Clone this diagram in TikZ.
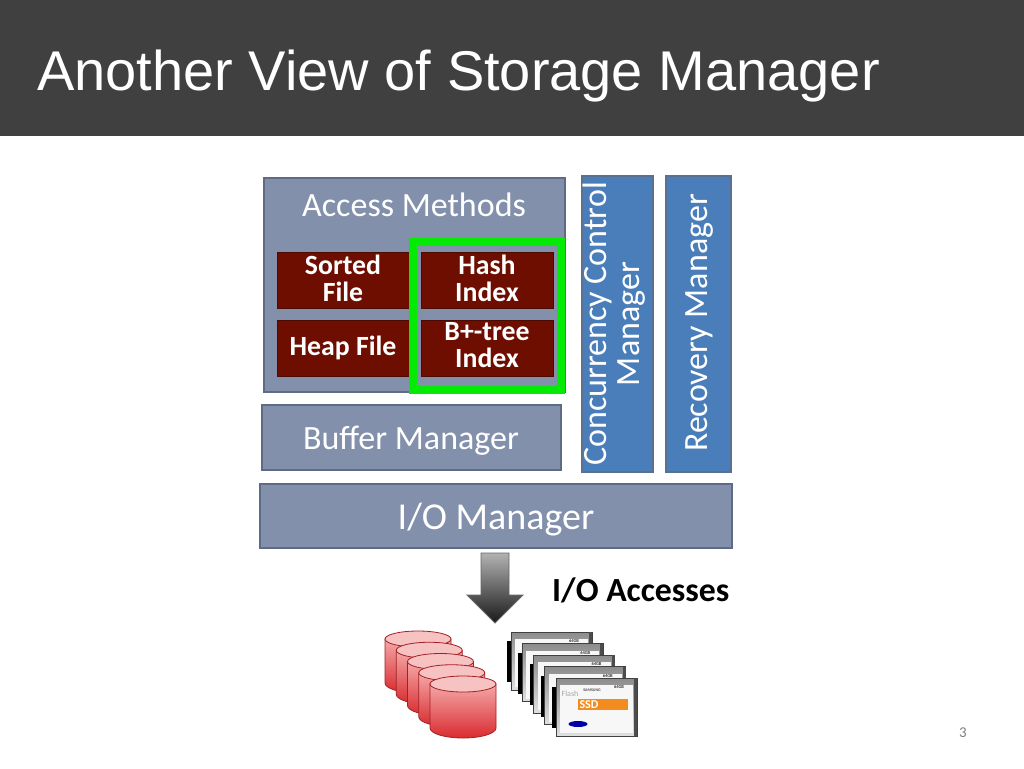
\documentclass[tikz,border=0pt]{standalone}
\usepackage{fontspec}
\setmainfont{Carlito}
\newfontfamily\titlefont{Liberation Sans}
\usetikzlibrary{arrows,shapes.geometric}
\definecolor{headgray}{HTML}{404040}
\definecolor{slate}{HTML}{8390AC}
\definecolor{slateline}{HTML}{5F6B85}
\definecolor{mgrblue}{HTML}{4A7EBB}
\definecolor{mgrline}{HTML}{5B6F8F}
\definecolor{maroon}{HTML}{6E0E00}
\definecolor{limeframe}{HTML}{05EA05}
\definecolor{diskred}{HTML}{D92B30}
\definecolor{diskpink}{HTML}{F4A8A8}
\definecolor{ssdorange}{HTML}{F28C1E}
\tikzset{
  mgr_box/.style = {rectangle, draw=slateline, fill=slate, line width=1.5pt, inner sep=0pt},
  mgr_label/.style = {text=white, inner sep=0pt, font=\fontsize{34}{36}\selectfont},
  mgr_side/.style = {rectangle, draw=mgrline, fill=mgrblue, line width=1.5pt, inner sep=0pt, minimum height=296pt},
  mgr_text/.style = {text=white, inner sep=0pt, align=center, rotate=90, font=\fontsize{34}{33}\selectfont},
  file_box/.style = {rectangle, draw=maroon!70!black, fill=maroon, line width=0.8pt, minimum width=132pt, minimum height=56pt, inner sep=0pt},
  file_text/.style = {inner sep=0pt, align=center, text=white, font=\fontsize{27.8}{27}\selectfont\bfseries},
  pics/disk/.style = {code={
    \path[top color=diskpink, bottom color=diskred, draw=diskred!75!black, line width=0.8pt] (0,8) -- (0,52) arc[start angle=180, end angle=360, x radius=33pt, y radius=10pt] -- (66,8) -- cycle;
    \path[fill=diskpink!70!white, draw=diskred!75!black, line width=0.8pt] (33,8) ellipse[x radius=33pt, y radius=8pt];
  }},
  pics/ssd/.style = {code={
    \fill[black] (0,9) rectangle (3.5,50);
    \path[top color=black!45, bottom color=black!12, draw=black!75, line width=0.8pt] (4,0) rectangle (85,58);
    \fill[black!3] (8,7) rectangle (81,55);
    \fill[black!70] (82,0) rectangle (85,58);
    \node[font=\fontsize{4.5}{4.5}\selectfont\bfseries, text=black!80, inner sep=0pt] at (67,9) {64GB};
  }}
}
\begin{document}
\begin{tikzpicture}[x=1pt,y=-1pt]
  \useasboundingbox (0,0) rectangle (1024,768);
  % Header band
  \fill[headgray] (0,0) rectangle (1024,136);
  \node (title) [anchor=west, text=white, inner sep=0pt, font=\titlefont\fontsize{56}{60}\selectfont] at (37,76) {Another View of Storage Manager};
  % Access methods
  \node (access) [mgr_box, minimum width=301pt, minimum height=214pt] at (414.5,285) {};
  \node (accesstext) [mgr_label] at (414,205) {Access Methods};
  \node (sorted) [file_box] at (343,280) {};
  \node (heap) [file_box] at (343,348.5) {};
  \node (hash) [file_box] at (487,280) {};
  \node (btree) [file_box] at (487,348.5) {};
  \node (sortedtext) [file_text] at (343,278.5) {Sorted\\File};
  \node (heaptext) [file_text] at (343,348) {Heap File};
  \node (hashtext) [file_text] at (487,278.5) {Hash\\Index};
  \node (btreetext) [file_text] at (487,345.5) {B+-tree\\Index};
  \node (frame) [rectangle, draw=limeframe, line width=8pt, minimum width=148pt, minimum height=148pt, inner sep=0pt] at (487,316) {};
  % Lower managers
  \node (buffer) [mgr_box, minimum width=299pt, minimum height=65pt] at (411.5,437.5) {};
  \node (buffertext) [mgr_label] at (411,441) {Buffer Manager};
  \node (iomgr) [mgr_box, minimum width=472pt, minimum height=64pt] at (496,516) {};
  \node (iotext) [mgr_label, font=\fontsize{38}{40}\selectfont] at (496,520) {I/O Manager};
  % Side managers
  \node (concur) [mgr_side, minimum width=71pt] at (617.5,324) {};
  \node (concurtext) [mgr_text] at (614,324) {Concurrency Control\\Manager};
  \node (recov) [mgr_side, minimum width=65pt] at (698.5,324) {};
  \node (recovtext) [mgr_text] at (700,323) {Recovery Manager};
  % I/O arrow
  \path[top color=black!30, bottom color=black!90, draw=black!60, line width=0.8pt] (481,553) -- (509,553) -- (509,595) -- (523,595) -- (495,623) -- (467,595) -- (481,595) -- cycle;
  \node (accesses) [anchor=west, inner sep=0pt, font=\fontsize{33.8}{36}\selectfont\bfseries] at (552,590) {I/O Accesses};
  % Disks
  \foreach \i in {0,...,4}
    \pic at ({385+11.25*\i},{631+11.25*\i}) {disk};
  % Flash cards
  \foreach \i in {0,...,3}
    \pic at ({507+11.25*\i},{632+11.5*\i}) {ssd};
  \pic at (552,678) {ssd};
  \fill[ssdorange] (578,699) rectangle (628,710);
  \node (ssdword) [font=\fontsize{12}{12}\selectfont\bfseries, text=white, inner sep=0pt] at (589,705) {SSD};
  \node (flashword) [font=\fontsize{8}{8}\selectfont, text=black!35, inner sep=0pt] at (570,694) {Flash};
  \node (samsungtop) [font=\fontsize{4}{4}\selectfont\bfseries, text=black!70, inner sep=0pt] at (592,690) {SAMSUNG};
  \node (samsunglogo) [ellipse, fill=blue!65!black, minimum width=19pt, minimum height=6pt, inner sep=0pt] at (578,724) {};
  % Page number
  \node (pagenum) [text=black!50, inner sep=0pt, font=\fontsize{15}{16}\selectfont] at (963,733) {3};
\end{tikzpicture}
\end{document}
